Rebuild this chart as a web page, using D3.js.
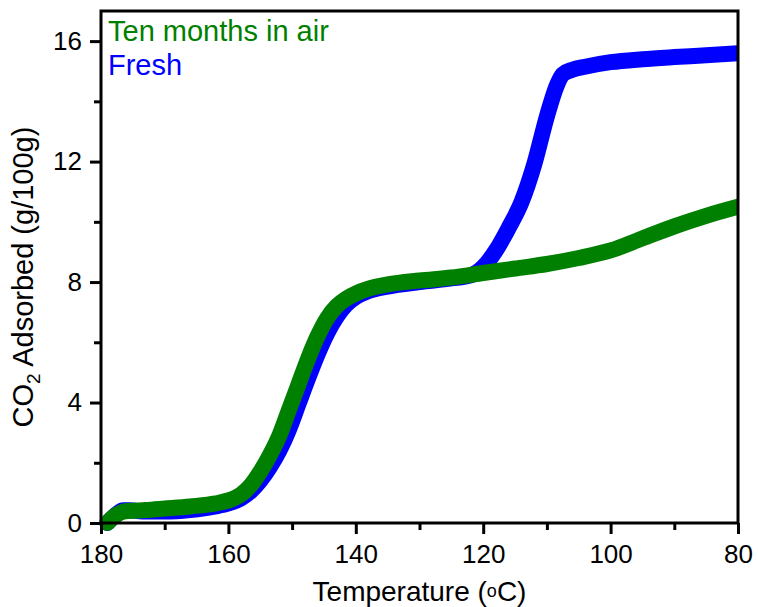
<!DOCTYPE html>
<html>
<head>
<meta charset="utf-8">
<script src="https://cdn.jsdelivr.net/npm/d3@7"></script>
<style>
  body { margin: 0; background: #fff; }
  svg text { font-family: "Liberation Sans", Arial, sans-serif; }
</style>
</head>
<body>
<svg id="chart" width="758" height="607"></svg>
<script>
// Ten months in air
const agedTemp = [179.0, 178.3, 177.5, 176.5, 175.5, 173, 170, 166, 162, 160, 158, 156.5, 155, 153.5, 152, 150.5, 149, 147.5, 146, 144.5, 143, 141.5, 140, 138, 135, 130, 125, 120, 115, 110, 105, 100, 95, 90, 85, 80]
const agedCO2 = [0.0, 0.15, 0.28, 0.38, 0.40, 0.43, 0.48, 0.55, 0.65, 0.75, 0.95, 1.25, 1.7, 2.25, 2.9, 3.75, 4.6, 5.45, 6.2, 6.8, 7.2, 7.45, 7.62, 7.78, 7.92, 8.05, 8.15, 8.3, 8.45, 8.6, 8.8, 9.05, 9.45, 9.85, 10.2, 10.5]

// Fresh
const freshTemp = [179.0, 178.3, 177.5, 176.5, 175.5, 173, 170, 166, 162, 160, 158, 156.5, 155, 153.5, 152, 150.5, 149, 147.5, 146, 144.5, 143, 141.5, 140, 138, 135, 130, 125, 122, 120, 118, 116, 114, 112, 110, 108.5, 107.5, 106, 104, 100, 95, 90, 85, 80]
const freshCO2 = [0.0, 0.15, 0.3, 0.42, 0.42, 0.38, 0.38, 0.43, 0.55, 0.65, 0.82, 1.05, 1.4, 1.85, 2.4, 3.1, 3.95, 4.8, 5.6, 6.3, 6.85, 7.25, 7.5, 7.7, 7.85, 8.0, 8.12, 8.22, 8.5, 9.05, 9.8, 10.65, 11.9, 13.5, 14.5, 14.9, 15.05, 15.15, 15.3, 15.4, 15.47, 15.53, 15.6]

const xTicks = [180, 160, 140, 120, 100, 80]
const xMinor = [170, 150, 130, 110, 90]
const yTicks = [0, 4, 8, 12, 16]
const yMinor = [2, 6, 10, 14]

const margin = { top: 11, left: 101 }
const innerW = 738 - margin.left
const innerH = 523 - margin.top

const svg = d3.select('#chart')

const x = d3.scaleLinear().domain([180, 80]).range([margin.left, margin.left + innerW])
const y = d3.scaleLinear().domain([0, 17]).range([margin.top + innerH, margin.top])

svg.append('clipPath')
	.attr('id', 'plot-clip')
	.append('rect')
	.attr('x', margin.left - 20)
	.attr('y', margin.top)
	.attr('width', innerW + 20)
	.attr('height', innerH + 20)

const line = d3.line()
	.x(d => x(d[0]))
	.y(d => y(d[1]))
	.curve(d3.curveMonotoneX)

// Curves
const curves = svg.append('g').attr('clip-path', 'url(#plot-clip)')

curves.append('path')
	.datum(d3.zip(freshTemp, freshCO2))
	.attr('d', line)
	.attr('fill', 'none')
	.attr('stroke', '#0000ff')
	.attr('stroke-width', 16)
	.attr('stroke-linecap', 'round')
	.attr('stroke-linejoin', 'round')

curves.append('path')
	.datum(d3.zip(agedTemp, agedCO2))
	.attr('d', line)
	.attr('fill', 'none')
	.attr('stroke', '#008000')
	.attr('stroke-width', 16)
	.attr('stroke-linecap', 'round')
	.attr('stroke-linejoin', 'round')

// Axes
const styleAxis = g => {
	g.select('.domain').remove()
	g.selectAll('line').attr('stroke', '#000').attr('stroke-width', 3)
	g.selectAll('text').attr('font-size', 26).attr('fill', '#000')
}

svg.append('g')
	.attr('transform', `translate(0,${y(0)})`)
	.call(d3.axisBottom(x).tickValues(xTicks).tickSize(11).tickPadding(11).tickFormat(d3.format('d')))
	.call(styleAxis)

svg.append('g')
	.attr('transform', `translate(0,${y(0)})`)
	.call(d3.axisBottom(x).tickValues(xMinor).tickSize(7).tickFormat(''))
	.call(styleAxis)

svg.append('g')
	.attr('transform', `translate(${x(180)},0)`)
	.call(d3.axisLeft(y).tickValues(yTicks).tickSize(11).tickPadding(8).tickFormat(d3.format('d')))
	.call(styleAxis)

svg.append('g')
	.attr('transform', `translate(${x(180)},0)`)
	.call(d3.axisLeft(y).tickValues(yMinor).tickSize(7).tickFormat(''))
	.call(styleAxis)

// Frame
svg.append('rect')
	.attr('x', margin.left)
	.attr('y', margin.top)
	.attr('width', innerW)
	.attr('height', innerH)
	.attr('fill', 'none')
	.attr('stroke', '#000')
	.attr('stroke-width', 3)

// Legend
svg.append('text')
	.attr('x', 108)
	.attr('y', 41)
	.attr('font-size', 29)
	.attr('fill', '#008000')
	.text('Ten months in air')

svg.append('text')
	.attr('x', 108)
	.attr('y', 75)
	.attr('font-size', 29)
	.attr('fill', '#0000ff')
	.text('Fresh')

// Axis titles
const xTitle = svg.append('text')
	.attr('x', (x(180) + x(80)) / 2)
	.attr('y', 601)
	.attr('text-anchor', 'middle')
	.attr('font-size', 28)
xTitle.append('tspan').text('Temperature (')
xTitle.append('tspan').attr('font-size', 18).attr('dy', -4).text('o')
xTitle.append('tspan').attr('dy', 4).text('C)')

const yTitle = svg.append('text')
	.attr('transform', 'translate(33,277) rotate(-90)')
	.attr('text-anchor', 'middle')
	.attr('font-size', 29)
yTitle.append('tspan').text('CO')
yTitle.append('tspan').attr('font-size', 19).attr('dy', 7).text('2')
yTitle.append('tspan').attr('dy', -7).text(' Adsorbed (g/100g)')
</script>
</body>
</html>
